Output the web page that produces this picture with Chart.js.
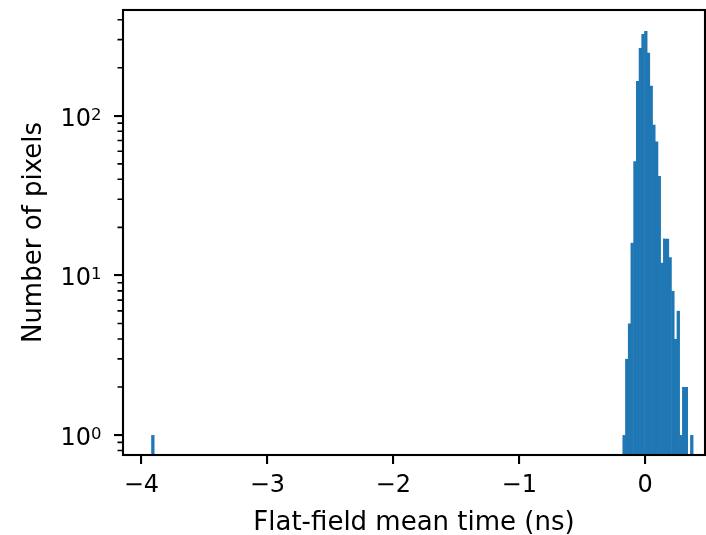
<!DOCTYPE html>
<html>
<head>
<meta charset="utf-8">
<script src="https://cdn.jsdelivr.net/npm/chart.js@4"></script>
<style>
  html, body { margin: 0; padding: 0; background: #fff; }
  #wrap { width: 706px; height: 535px; }
</style>
</head>
<body>
<div id="wrap"><canvas id="chart" width="706" height="535"></canvas></div>
<script>
// histogram bin centres (ns) and pixel counts
const binCenters = [
  -3.909,
  -0.167, -0.146, -0.124, -0.103, -0.081, -0.060, -0.038, -0.017,
  0.005, 0.026, 0.048, 0.069, 0.091, 0.112, 0.134, 0.155, 0.177,
  0.198, 0.220, 0.241, 0.263, 0.284, 0.306, 0.327, 0.370
];
const counts = [
  1,
  1, 3, 5, 16, 52, 165, 266, 325,
  340, 248, 154, 88, 69, 42, 12, 17, 17,
  13, 8, 4, 6, 1, 2, 2, 1
];

const xTicks = [-4, -3, -2, -1, 0];
const yMajor = [1, 10, 100];
const yExponents = ["0", "1", "2"];
const yMinor = [0.8, 0.9, 2, 3, 4, 5, 6, 7, 8, 9, 20, 30, 40, 50, 60, 70, 80, 90, 200, 300, 400];

const FONT = "'DejaVu Sans', sans-serif";

// matplotlib-like frame, minor ticks and 10^n labels
const framePlugin = {
  id: "frame",
  afterDraw(chart) {
    const { ctx, chartArea: a, scales } = chart;
    ctx.save();
    ctx.strokeStyle = "#000";
    ctx.lineWidth = 1.6;
    ctx.beginPath();
    yMinor.forEach((v) => {
      const y = scales.y.getPixelForValue(v);
      if (y < a.top || y > a.bottom) return;
      ctx.moveTo(a.left - 5.5, y);
      ctx.lineTo(a.left, y);
    });
    ctx.stroke();
    ctx.lineWidth = 2.1;
    ctx.strokeRect(a.left, a.top, a.right - a.left, a.bottom - a.top);

    // tick labels: "10" with a raised exponent
    ctx.fillStyle = "#000";
    ctx.textBaseline = "alphabetic";
    const xs = a.left - 32;
    yMajor.forEach((v, i) => {
      const y = scales.y.getPixelForValue(v);
      ctx.font = "24px " + FONT;
      ctx.textAlign = "right";
      ctx.fillText("10", xs, y + 10);
      ctx.font = "16.5px " + FONT;
      ctx.textAlign = "left";
      ctx.fillText(yExponents[i], xs, y + 4);
    });
    ctx.restore();
  },
};

new Chart(document.getElementById("chart"), {
  type: "bar",
  data: {
    datasets: [
      {
        data: binCenters.map((x, i) => ({ x: x, y: counts[i] })),
        backgroundColor: "#1f77b4",
        borderWidth: 0,
        barPercentage: 1.25,
        categoryPercentage: 1.0,
        grouped: false,
      },
    ],
  },
  options: {
    responsive: false,
    animation: false,
    layout: { padding: { top: 10, right: 1, left: 0, bottom: 0 } },
    plugins: { legend: { display: false }, tooltip: { enabled: false } },
    scales: {
      x: {
        type: "linear",
        min: -4.146,
        max: 0.475,
        offset: false,
        afterBuildTicks: (s) => { s.ticks = xTicks.map((v) => ({ value: v })); },
        afterFit: (s) => { s.height = 80; s.paddingLeft = 0; s.paddingRight = 0; },
        grid: { drawOnChartArea: false, offset: false, color: "#000", lineWidth: 2.1, tickLength: 9 },
        border: { display: false },
        ticks: {
          color: "#000",
          padding: 7,
          maxRotation: 0,
          font: { family: FONT, size: 24 },
          callback: (v) => (v < 0 ? "\u2212" + Math.abs(v) : String(v)),
        },
        title: {
          display: true,
          text: "Flat-field mean time (ns)",
          color: "#000",
          font: { family: FONT, size: 26 },
          padding: { top: 0, bottom: -4 },
        },
      },
      y: {
        type: "logarithmic",
        min: 0.75,
        max: 460,
        afterBuildTicks: (s) => { s.ticks = yMajor.map((v) => ({ value: v })); },
        afterFit: (s) => { s.width = 123; s.paddingTop = 0; s.paddingBottom = 0; },
        grid: { drawOnChartArea: false, color: "#000", lineWidth: 2.1, tickLength: 9 },
        border: { display: false },
        ticks: {
          color: "#000",
          padding: 13,
          font: { family: FONT, size: 24 },
          callback: () => "",
        },
        title: {
          display: true,
          text: "Number of pixels",
          color: "#000",
          font: { family: FONT, size: 26 },
          padding: { top: 19, bottom: 0 },
        },
      },
    },
  },
  plugins: [framePlugin],
});
</script>
</body>
</html>
